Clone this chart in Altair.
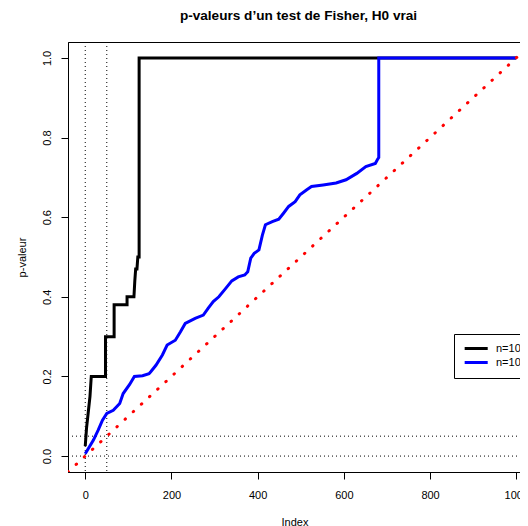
import altair as alt
import pandas as pd

# Sorted p-values (step vertices)
black_x = [0, 3, 7, 11, 14, 47, 47, 67, 67, 97, 97, 113, 115, 117, 120, 122, 125, 125, 1000]
black_y = [0.025, 0.07, 0.11, 0.15, 0.20, 0.20, 0.30, 0.30, 0.38, 0.38, 0.40, 0.40, 0.44,
           0.47, 0.47, 0.50, 0.50, 1.0, 1.0]

blue_x = [0, 19, 30, 40, 50, 65, 80, 88, 103, 114, 133, 148, 152, 164, 179, 190, 209, 221,
          232, 255, 274, 285, 297, 310, 325, 340, 355, 370, 377, 384, 392, 403, 411, 418,
          434, 449, 460, 472, 487, 498, 514, 525, 552, 582, 605, 630, 651, 673, 678, 681,
          681, 1000]
blue_y = [0.006, 0.04, 0.065, 0.09, 0.107, 0.115, 0.132, 0.157, 0.18, 0.20, 0.202, 0.207,
          0.212, 0.228, 0.254, 0.279, 0.291, 0.312, 0.333, 0.346, 0.354, 0.371, 0.388, 0.40,
          0.42, 0.44, 0.45, 0.455, 0.463, 0.497, 0.509, 0.518, 0.555, 0.581, 0.589, 0.595,
          0.61, 0.627, 0.639, 0.656, 0.669, 0.677, 0.681, 0.686, 0.694, 0.71, 0.727, 0.735,
          0.745, 0.75, 1.0, 1.0]

series_labels = ["n=10", "n=100"]
series_colors = ["black", "blue"]

# reference line y = x / 1000
ref_x = [-40, 1040]
ref_y = [-0.04, 1.04]

vlines = [0, 50]
hlines = [0, 0.05]

x_ticks = [0, 200, 400, 600, 800, 1000]
y_ticks = [0.0, 0.2, 0.4, 0.6, 0.8, 1.0]

FONT = "Liberation Sans"

df_black = pd.DataFrame({"x": black_x, "y": black_y, "series": series_labels[0],
                         "i": range(len(black_x))})
df_blue = pd.DataFrame({"x": blue_x, "y": blue_y, "series": series_labels[1],
                        "i": range(len(blue_x))})
df_ref = pd.DataFrame({"x": ref_x, "y": ref_y})
df_v = pd.DataFrame({"x": vlines})
df_h = pd.DataFrame({"y": hlines})

xscale = alt.Scale(domain=[-40, 1011], nice=False, zero=False)
yscale = alt.Scale(domain=[-0.04, 1.04], nice=False, zero=False)
color = alt.Color("series:N", scale=alt.Scale(domain=series_labels, range=series_colors),
                  legend=alt.Legend(title=None))


def xaxis():
    return alt.Axis(values=x_ticks, format="d", title="Index", grid=False, tickSize=7,
                    labelPadding=10, titlePadding=16)


def yaxis():
    return alt.Axis(values=y_ticks, format=".1f", title="p-valeur", grid=False,
                    tickSize=7, labelAngle=-90, labelPadding=9, titlePadding=14)


X = alt.X("x:Q", scale=xscale, axis=xaxis())
Y = alt.Y("y:Q", scale=yscale, axis=yaxis())

vrule = alt.Chart(df_v).mark_rule(color="black", strokeWidth=1, strokeDash=[1, 3]).encode(
    x=X
)
hrule = alt.Chart(df_h).mark_rule(color="black", strokeWidth=1, strokeDash=[1, 3]).encode(
    y=Y
)
black = alt.Chart(df_black).mark_line(strokeWidth=3).encode(
    x=X, y=Y, order="i:Q", color=color,
)
blue = alt.Chart(df_blue).mark_line(strokeWidth=3).encode(
    x=X, y=Y, order="i:Q", color=color,
)
ref = alt.Chart(df_ref).mark_line(color="red", strokeWidth=3, strokeDash=[0.5, 10.6],
                                  strokeCap="round", clip=True).encode(
    x=X, y=Y,
)

chart = alt.layer(vrule, hrule, black, blue, ref).properties(
    width=453,
    height=430,
    padding={"left": 60, "top": 34, "right": -1, "bottom": 54},
    autosize=alt.AutoSizeParams(type="none"),
    title=alt.Title("p-valeurs d’un test de Fisher, H0 vrai", font=FONT, fontSize=13.6,
                    fontWeight="bold", color="black", offset=19, anchor="middle", dx=4),
).configure_view(stroke="black", strokeWidth=1).configure_axis(
    labelFont=FONT, titleFont=FONT, labelFontSize=11, titleFontSize=11,
    labelColor="black", titleColor="black", domainColor="black", tickColor="black",
    titleFontWeight="normal", domainWidth=1, tickWidth=1, labelFlush=False,
    labelOverlap=False,
).configure_legend(
    orient="none", legendX=386, legendY=292, padding=9, strokeColor="black",
    fillColor="white", strokeWidth=1, cornerRadius=0, symbolType="M-1,0H5",
    symbolSize=59, symbolStrokeWidth=3, labelFont=FONT, labelFontSize=11,
    labelColor="black", rowPadding=1, labelOffset=22,
)

chart.save("out.html", embed_options={"renderer": "svg", "actions": False})
